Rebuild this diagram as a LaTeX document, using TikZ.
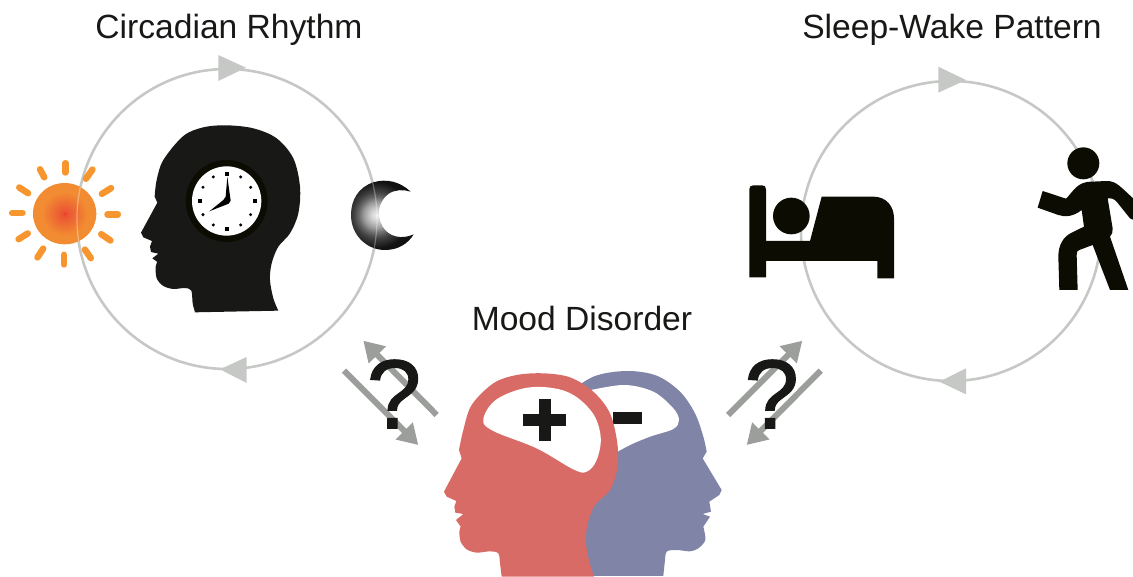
\documentclass[tikz,border=0pt]{standalone}
\usepackage{fontspec}
\setmainfont{Liberation Sans}
\newfontfamily\qfont[FakeBold=1.2]{Liberation Sans}
\usetikzlibrary{arrows.meta}
\definecolor{ringgray}{HTML}{C6C8C6}
\definecolor{arrowgray}{HTML}{9C9E9C}
\definecolor{headblack}{HTML}{181816}
\definecolor{iconblack}{HTML}{0C0C02}
\definecolor{sunorange}{HTML}{F7962F}
\definecolor{moodred}{HTML}{D96B66}
\definecolor{moodblue}{HTML}{8084A6}
\pgfdeclareradialshading{sunshade}{\pgfpointorigin}{rgb(0bp)=(0.93,0.23,0.21);rgb(2bp)=(0.92,0.33,0.2);rgb(18bp)=(0.95,0.55,0.196);rgb(50bp)=(0.95,0.55,0.196)}
\pgfdeclareradialshading{moonshade}{\pgfpointorigin}{rgb(0bp)=(0.95,0.95,0.95);rgb(4bp)=(0.8,0.8,0.8);rgb(8bp)=(0.6,0.6,0.6);rgb(11bp)=(0.4,0.4,0.4);rgb(14bp)=(0.25,0.25,0.25);rgb(20bp)=(0.07,0.07,0.07);rgb(50bp)=(0.05,0.05,0.05)}
\tikzset{
  title/.style={font=\fontsize{33.6}{40}\selectfont,text=headblack,inner sep=0pt},
  ring/.style={draw=ringgray,line width=2.6pt},
  ray/.style={draw=sunorange,line width=6.5pt,line cap=round,shorten >=1.5pt,shorten <=1.5pt},
  dbl/.style={draw=arrowgray,line width=6pt,-{Triangle[length=20pt,width=23pt]}},
  qmark/.style={font=\qfont\fontsize{98}{100}\selectfont,text=headblack,inner sep=0pt},
  zoomone/.style={shift={(0,50)},x=0.33333pt,y=-0.33333pt},
  zoomtwo/.style={shift={(330,330)},x=0.33333pt,y=-0.33333pt},
  zoomthree/.style={shift={(730,60)},x=0.33333pt,y=-0.33333pt},
}
\begin{document}
\begin{tikzpicture}[x=1pt,y=-1pt]
\useasboundingbox (0,0) rectangle (1133,577);
\clip (0,0) rectangle (1133,577);

\node[title] (t1) at (229,30) {Circadian Rhythm};
\node[title] (t2) at (952,30) {Sleep-Wake Pattern};
\node[title] (t3) at (582,318) {Mood Disorder};

% rings
\draw[ring] (227,219) circle (150);
\draw[ring] (951,231) circle (150);

\begin{scope}[zoomone]
  \fill[ringgray] (655,15) -- (655,93) -- (738,53) -- cycle;
  \fill[ringgray] (740,921) -- (740,999) -- (660,958) -- cycle;
  % sun
  \foreach \a/\b/\c/\d in {196/335/196/372,118/354/135/386,54/410/88/432,32/489/72/489,52/570/87/548,110/626/132/592,192/610/192/648,252/595/275/628,300/550/335/574,318/493/358/493,302/434/337/412,255/390/280/355}
    \draw[ray] (\a,\b) -- (\c,\d);
  \shade[shading=sunshade] (194,491) ellipse (95 and 92);
  \begin{scope}
    \clip (194,491) ellipse (95 and 92);
    \draw[white,opacity=.35,line width=1.2pt] (681,506) circle (450);
  \end{scope}
  % moon
  \begin{scope}
    \clip (1232,425) .. controls (1200,395) and (1160,385) .. (1120,397)
      .. controls (1075,412) and (1053,450) .. (1053,495)
      .. controls (1053,555) and (1100,600) .. (1155,600)
      .. controls (1195,600) and (1225,580) .. (1241,553)
      .. controls (1205,570) and (1165,560) .. (1148,530)
      .. controls (1128,495) and (1135,455) .. (1165,432)
      .. controls (1185,418) and (1210,418) .. (1232,425) -- cycle;
    \shade[shading=moonshade] (1130,495) circle (125);
    \draw[white,opacity=.3,line width=1.2pt] (681,506) circle (450);
  \end{scope}
  % black head
  \fill[headblack] plot[smooth,tension=.55] coordinates {(464,440) (470,390) (490,330) (550,258) (610,232) (680,226) (760,235) (830,265) (880,325) (900,410) (895,490) (870,550) (835,590) (815,640) (810,690) (820,745) (835,782)}
    -- (585,787)
    -- plot[smooth,tension=.5] coordinates {(585,787) (578,760) (574,722) (555,714) (520,717) (490,708) (470,685) (467,650) (472,636)}
    -- (457,625) -- (475,611) -- (453,606) -- (450,590) -- (456,573) -- (430,562) -- (423,548) -- (472,458) -- cycle;
  % clock
  \fill[iconblack] (680,453) circle (123);
  \fill[white] (680,453) circle (104);
  \foreach \x/\y in {681/372,765/453,681/536,600/453}
    \fill[black] (\x-6,\y-6) rectangle (\x+6,\y+6);
  \foreach \x/\y in {640/381,722/381,752/412,752/494,722/525,640/525,609/494,609/412}
    \fill[black] (\x,\y) circle (5);
  \fill[black] (682,380) -- (692,452) -- (686,461) -- (628,484) -- (670,450) -- (677,440) -- cycle;
\end{scope}

\begin{scope}[zoomthree]
  \fill[ringgray] (625,20) -- (625,98) -- (708,60) -- cycle;
  \fill[ringgray] (708,925) -- (708,1003) -- (628,965) -- cycle;
  % bed
  \fill[iconblack] (58,652) -- (58,388) .. controls (58,380) and (62,376) .. (70,376) -- (96,376)
    .. controls (104,376) and (108,380) .. (108,388) -- (108,543) -- (240,543) -- (275,410) -- (430,410)
    .. controls (470,410) and (492,440) .. (492,475) -- (492,655) -- (442,655) -- (442,603) -- (108,603) -- (108,652) -- cycle;
  \fill[iconblack] (184,468) circle (55);
  % walker
  \fill[iconblack] (1060,310) circle (48);
  \fill[iconblack] (938,393) -- (1008,416) .. controls (1030,395) and (1040,365) .. (1085,365) -- (1130,363)
    .. controls (1160,363) and (1170,380) .. (1215,420) -- (1215,482) -- (1200,475) -- (1160,425)
    .. controls (1150,415) and (1145,415) .. (1133,415) -- (1148,505) .. controls (1149,515) and (1146,525) .. (1140,530)
    -- (1195,690) -- (1140,690) -- (1088,555) -- (1048,570) .. controls (1042,572) and (1040,576) .. (1040,585)
    -- (1043,690) -- (988,690) -- (985,590) .. controls (985,555) and (1000,530) .. (1025,518) -- (1062,500) -- (1055,450)
    .. controls (1030,470) and (1005,472) .. (985,465) -- (923,443) -- cycle;
\end{scope}

\begin{scope}[zoomtwo]
  % blue head
  \fill[moodblue] plot[smooth,tension=.55] coordinates {(700,200) (790,140) (890,123) (980,137) (1050,185) (1095,250) (1120,320) (1130,365)}
    -- (1118,385) -- (1175,480) -- (1168,495) -- (1138,515) -- (1143,545) -- (1118,552) -- (1140,560) -- (1120,590)
    -- plot[smooth,tension=.5] coordinates {(1120,590) (1126,630) (1105,655) (1080,664) (1040,660) (1010,665) (1004,700) (1000,738)}
    -- (700,738) -- cycle;
  \fill[white] plot[smooth,tension=.55] coordinates {(760,185) (880,165) (970,185) (1030,235) (1047,270) (1030,297) (960,320) (900,345) (840,378)} -- cycle;
  \fill[headblack] (848,246) rectangle (936,282);
  % red head
  \fill[moodred] plot[smooth,tension=.55] coordinates {(387,360) (400,300) (425,225) (490,160) (560,135) (640,130) (720,142) (790,185) (840,250) (862,340) (862,415) (840,480) (795,525) (772,585) (768,640) (778,695) (792,740)}
    -- (515,740)
    -- plot[smooth,tension=.5] coordinates {(515,740) (510,700) (505,670) (480,664) (440,668) (410,658) (392,635) (388,605) (392,590)}
    -- (378,570) -- (400,552) -- (376,548) -- (373,530) -- (379,513) -- (350,500) -- (342,485) -- (395,385) -- cycle;
  \fill[white] plot[smooth cycle,tension=.6] coordinates {(460,268) (500,208) (600,172) (710,185) (785,245) (812,320) (800,390) (770,425) (730,418) (620,355) (490,303)};
  \fill[headblack] (626,206) rectangle (662,332);
  \fill[headblack] (580,252) rectangle (708,288);
\end{scope}

% double arrows
\coordinate (a1s) at (436.7,415); \coordinate (a1e) at (363.3,340.7);
\coordinate (a2s) at (344,370.7); \coordinate (a2e) at (418.3,445);
\coordinate (a3s) at (728,415);   \coordinate (a3e) at (802.3,340.7);
\coordinate (a4s) at (820.7,370.7); \coordinate (a4e) at (746.7,445);
\draw[dbl] (a1s) -- (a1e);
\draw[dbl] (a2s) -- (a2e);
\draw[dbl] (a3s) -- (a3e);
\draw[dbl] (a4s) -- (a4e);
\node[qmark] (q1) at (394,394) {?};
\node[qmark] (q2) at (771.7,394) {?};
\end{tikzpicture}
\end{document}
